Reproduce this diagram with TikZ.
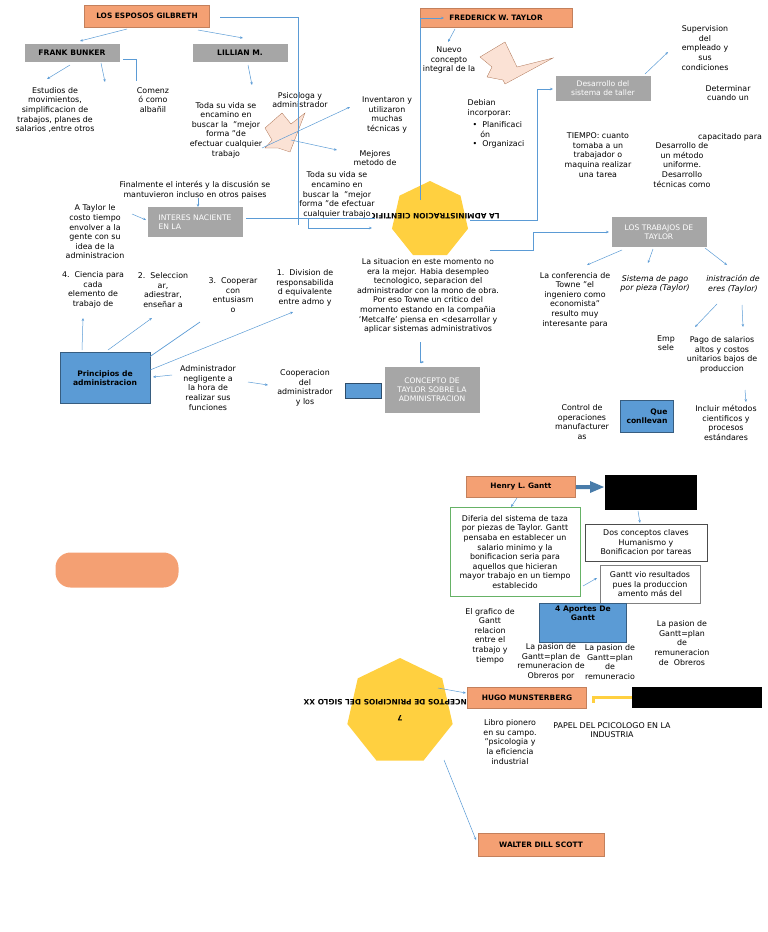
\documentclass[tikz,border=0pt]{standalone}
\usepackage{fontspec}
\setmainfont{DejaVu Sans}
\usetikzlibrary{shapes.geometric,arrows.meta}
\definecolor{orb}{RGB}{244,160,115}
\definecolor{grb}{RGB}{166,166,166}
\definecolor{blb}{RGB}{91,155,213}
\definecolor{yel}{RGB}{255,208,64}
\definecolor{peach}{RGB}{251,226,213}
\tikzset{
 every node/.style={font=\fontsize{7.9}{9.6}\selectfont, align=center, inner sep=1pt},
 obox/.style={fill=orb, draw=orb!80!black, line width=0.3pt, font=\fontsize{7.4}{9}\selectfont\bfseries},
 gbox/.style={fill=grb, text=white, font=\fontsize{7.6}{9.2}\selectfont},
 bbox/.style={fill=blb, draw=blb!60!black, line width=0.6pt, font=\fontsize{7.6}{9.2}\selectfont\bfseries},
 con/.style={draw=blb, line width=0.5pt, -{Stealth[length=3pt,width=2.5pt]}},
 ln/.style={draw=blb, line width=0.7pt},
 hept/.style={regular polygon, regular polygon sides=7, fill=yel, draw=none, inner sep=0pt},
}
\begin{document}
\begin{tikzpicture}[x=1pt,y=-1pt]
\useasboundingbox (0,0) rectangle (768,932);
% Gilbreth
\node[obox, minimum width=125, minimum height=22] (gil) at (147,16) {LOS ESPOSOS GILBRETH};
\node[gbox, minimum width=95, minimum height=18] (fb) at (72,53) {\textbf{\color{black}FRANK BUNKER}};
\node[gbox, minimum width=95, minimum height=18] (lil) at (240,53) {\textbf{\color{black}LILLIAN M.}};
\node (est) at (55,110) {Estudios de\\movimientos,\\simplificacion de\\trabajos, planes de\\salarios ,entre otros};
\node (com) at (153,100) {Comenz\\ó como\\albañil};
\node (toda1) at (226,130) {Toda su vida se\\encamino en\\buscar la \ "mejor\\forma "de\\efectuar cualquier\\trabajo};
\node (psi) at (300,100) {Psicologa y\\administrador};
\node (inv) at (387,115) {Inventaron y\\utilizaron\\muchas\\técnicas y};
\node (mej) at (375,158) {Mejores\\metodo de};
\node (toda2) at (337,195) {Toda su vida se\\encamino en\\buscar la \ "mejor\\forma "de efectuar\\cualquier trabajo};
\node (fin) at (195,190) {Finalmente el interés y la discusión se\\mantuvieron incluso en otros paises};
\node[gbox, minimum width=95, minimum height=30, align=left] (int) at (195,222) {INTERES NACIENTE\\EN LA};
\node (ata) at (95,232) {A Taylor le\\costo tiempo\\envolver a la\\gente con su\\idea de la\\administracion};
% peach block arrows
\fill[peach, draw=orb!70!black, line width=0.3pt] (265,128) -- (282,113) -- (291,124) -- (305,113) -- (290,152) -- (278,148) -- (265,148) -- (272,140) -- cycle;
\fill[peach, draw=orb!70!black, line width=0.3pt] (505,42) -- (517,67) -- (553,58) -- (505,84) -- (503,80) -- (487,77) -- (492,67) -- (480,57) -- cycle;
% Taylor
\node[obox, minimum width=152, minimum height=19] (fwt) at (496,18) {FREDERICK W. TAYLOR};
\node (nue) at (449,60) {Nuevo\\concepto\\integral de la};
\node[align=left] (deb) at (496,124) {Debian\\incorporar:\\[3pt] \ \ •\ \ Planificaci\\ \ \ \ \ \ ón\\ \ \ •\ \ Organizaci};
\node[gbox, minimum width=95, minimum height=25] (tal) at (603,88) {Desarrollo del\\sistema de taller};
\node (sup) at (705,48) {Supervision\\del\\empleado y\\sus\\condiciones};
\node (det) at (728,93) {Determinar\\cuando un};
\node (cap) at (730,137) {capacitado para};
\node (tie) at (598,155) {TIEMPO: cuanto\\tomaba a un\\trabajador o\\maquina realizar\\una tarea};
\node (des) at (682,165) {Desarrollo de\\un método\\uniforme.\\Desarrollo\\técnicas como};
\node[hept, minimum size=78] (cie) at (430,220) {};
\begin{scope}
\clip (372,200) rectangle (515,235);
\node[rotate=180, font=\fontsize{7.4}{9}\selectfont\bfseries] at (432,216) {LA ADMINISTRACION CIENTIFICA};
\end{scope}
\node[gbox, minimum width=95, minimum height=30] (trab) at (659,232) {LOS TRABAJOS DE\\TAYLOR};
\node (conf) at (575,300) {La conferencia de\\Towne "el\\ingeniero como\\economista"\\resulto muy\\interesante para};
\node[font=\fontsize{7.9}{9.6}\selectfont\itshape] (sis) at (655,284) {Sistema de pago\\por pieza (Taylor)};
\node[font=\fontsize{7.9}{9.6}\selectfont\itshape] (adm) at (733,284) {inistración de\\eres (Taylor)};
\node (emp) at (666,343) {Emp\\sele};
\node (pag) at (722,355) {Pago de salarios\\altos y costos\\unitarios bajos de\\produccion};
\node (inc) at (726,423) {Incluir métodos\\cientificos y\\procesos\\estándares};
\node[bbox, minimum width=53, minimum height=32, align=right] (que) at (647,416) {Que\\conllevan};
\node (ctrl) at (582,422) {Control de\\operaciones\\manufacturer\\as};
\node (sit) at (428,296) {La situacion en este momento no\\era la mejor. Habia desempleo\\tecnologico, separacion del\\administrador con la mono de obra.\\Por eso Towne un critico del\\momento estando en la compañia\\'Metcalfe' piensa en <desarrollar y\\aplicar sistemas administrativos};
\node[gbox, minimum width=95, minimum height=46] (ctay) at (432,390) {CONCEPTO DE\\TAYLOR SOBRE LA\\ADMINISTRACION};
\node[bbox, draw=blb!50!black, minimum width=36, minimum height=15] (sb) at (363,391) {};
\node[bbox, minimum width=90, minimum height=51] (pri) at (105,378) {Principios de\\administracion};
\node (p4) at (93,290) {4.\ \ Ciencia para\\cada\\elemento de\\trabajo de};
\node (p2) at (163,290) {2.\ \ Seleccion\\ar,\\adiestrar,\\enseñar a};
\node (p3) at (233,295) {3.\ \ Cooperar\\con\\entusiasm\\o};
\node (p1) at (305,288) {1.\ \ Division de\\responsabilida\\d equivalente\\entre admo y};
\node (neg) at (208,388) {Administrador\\negligente a\\la hora de\\realizar sus\\funciones};
\node (coop) at (305,388) {Cooperacion\\del\\administrador\\y los};
% connectors top
\draw[con] (127,29) -- (80,41);
\draw[con] (198,30) -- (243,38);
\draw[con] (70,65) -- (47,79);
\draw[con] (101,63) -- (105,82);
\draw[ln] (123,59) -- (136,59) -- (136,81);
\draw[con] (248,65) -- (252,85);
\draw[ln] (220,17) -- (298,17) -- (298,225);
\draw[con] (262,148) -- (350,107);
\draw[con] (291,140) -- (337,150);
\draw[con] (132,214) -- (146,220);
\draw[con] (198,198) -- (198,207);
\draw[ln] (246,218) -- (375,218);
\draw[con] (308,218) -- (308,228) -- (372,228);
\draw[ln] (420,200) -- (420,18);
\draw[con] (420,18) -- (444,18);
\draw[con] (455,29) -- (448,42);
\draw[con] (470,220) -- (537,220) -- (537,89) -- (553,89);
\draw[con] (645,74) -- (668,52);
\draw[con] (490,250) -- (533,250) -- (533,232) -- (609,232);
\draw[con] (622,250) -- (587,265);
\draw[con] (653,249) -- (648,263);
\draw[con] (705,248) -- (727,265);
\draw[con] (717,304) -- (695,327);
\draw[con] (742,305) -- (743,327);
\draw[con] (745,390) -- (746,402);
\draw[con] (420,342) -- (420,362) -- (424,362);
\draw[con] (82,350) -- (83,318);
\draw[con] (108,350) -- (152,318);
\draw[ln] (145,360) -- (200,322);
\draw[con] (150,370) -- (293,312);
\draw[con] (172,375) -- (153,377);
\draw[con] (248,382) -- (268,385);
% lower part
\node[fill=orb, rounded corners=15pt, minimum width=123, minimum height=35] (pill) at (117,570) {};
\node[obox, minimum width=109, minimum height=21] (gan) at (521,487) {Henry L. Gantt};
\node[fill=black, minimum width=92, minimum height=35, text=black] (hum) at (651,492) {Mejor conocido\\como 'humanista'};
\fill[blb!80!black] (576,485) -- (590,485) -- (590,481) -- (604,487) -- (590,493) -- (590,489) -- (576,489) -- cycle;
\node[draw=green!50!black!60, line width=0.6pt, minimum width=130, minimum height=89] (dif) at (515,552) {Diferia del sistema de taza\\por piezas de Taylor. Gantt\\pensaba en establecer un\\salario minimo y la\\bonificacion seria para\\aquellos que hicieran\\mayor trabajo en un tiempo\\establecido};
\node[draw=black!70, line width=0.5pt, minimum width=122, minimum height=37] (dos) at (646,543) {Dos conceptos claves\\Humanismo y\\Bonificacion por tareas};
\node[draw=black!50, line width=0.5pt, minimum width=100, minimum height=38, anchor=north] (vio) at (650,565) {Gantt vio resultados\\pues la produccion\\amento más del};
\node[bbox, minimum width=87, minimum height=39, anchor=north] (apo) at (583,603) {4 Aportes De\\Gantt\\[10pt]};
\node (graf) at (490,636) {El grafico de\\Gantt\\relacion\\entre el\\trabajo y\\tiempo};
\node (pa1) at (551,662) {La pasion de\\Gantt=plan de\\remuneracion de\\Obreros por};
\node (pa2) at (610,662) {La pasion de\\Gantt=plan\\de\\remuneracio};
\node (pa3) at (682,643) {La pasion de\\Gantt=plan\\de\\remuneracion\\de \ Obreros};
\draw[con] (517,498) -- (511,507);
\draw[con] (638,511) -- (640,523);
\draw[con] (583,586) -- (597,578);
\node[hept, minimum size=108] (sig) at (400,712) {};
\begin{scope}
\clip (280,690) rectangle (466,740);
\node[rotate=180, font=\fontsize{7.4}{9}\selectfont\bfseries] at (395,702) {7 CONCEPTOS DE PRINCIPIOS DEL SIGLO XX};
\end{scope}
\node[rotate=180, font=\fontsize{7.4}{9}\selectfont\bfseries] at (400,718) {7};
\node[obox, minimum width=119, minimum height=21] (hugo) at (527,698) {HUGO MUNSTERBERG};
\node[fill=black, minimum width=130, minimum height=21] (pin) at (697,697) {Psicologia en la industria};
\draw[yel, line width=3pt] (pin.west) -- (593,697) -- (593,703);
\draw[con] (438,688) -- (466,693);
\node (lib) at (510,742) {Libro pionero\\en su campo.\\"psicologia y\\la eficiencia\\industrial};
\node (pap) at (612,730) {PAPEL DEL PCICOLOGO EN LA\\INDUSTRIA};
\node[obox, minimum width=126, minimum height=23] (wal) at (541,845) {WALTER DILL SCOTT};
\draw[con] (444,760) -- (476,840);
\end{tikzpicture}
\end{document}
